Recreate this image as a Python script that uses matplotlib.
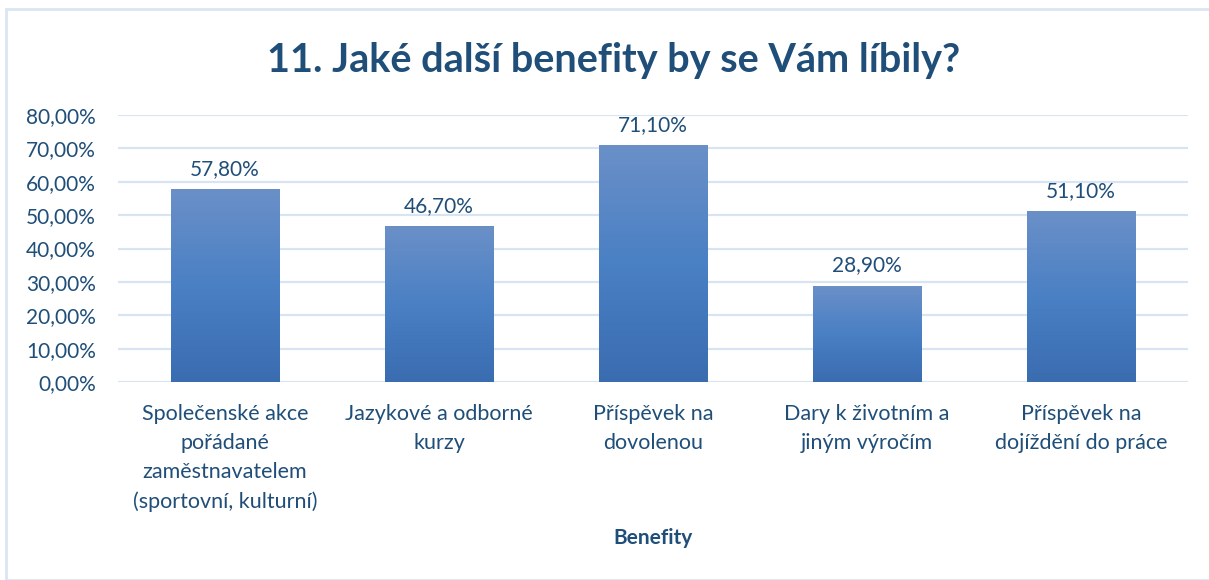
import numpy as np
import matplotlib.pyplot as plt
from matplotlib.patches import Rectangle
from matplotlib.colors import LinearSegmentedColormap
from matplotlib.ticker import FuncFormatter

categories = [
    "Společenské akce\npořádané\nzaměstnavatelem\n(sportovní, kulturní)",
    "Jazykové a odborné\nkurzy",
    "Příspěvek na\ndovolenou",
    "Dary k životním a\njiným výročím",
    "Příspěvek na\ndojíždění do práce",
]
values = [0.578, 0.467, 0.711, 0.289, 0.511]
yticks = [0.0, 0.1, 0.2, 0.3, 0.4, 0.5, 0.6, 0.7, 0.8]

text_color = "#1f4e79"
grid_color = "#d9e4f2"

plt.rcParams["font.family"] = ["Lato", "DejaVu Sans"]

fig = plt.figure(figsize=(12.09, 5.80), dpi=100)
ax = fig.add_axes([118 / 1209, 1 - 382 / 580, (1188 - 118) / 1209, (382 - 115) / 580])

# chart border
fig.patches.append(Rectangle((6 / 1209, 0), 1.2, 1 - 9 / 580, transform=fig.transFigure,
                             fill=False, edgecolor="#dae5f3", linewidth=2))

x = np.arange(len(categories))
bars = ax.bar(x, values, width=0.505, color="none", zorder=3)

cmap = LinearSegmentedColormap.from_list("g", ["#3a6cb0", "#4a80c4", "#6b90c8"])
grad = np.linspace(0, 1, 256).reshape(-1, 1)
for b in bars:
    x0, y0 = b.get_x(), b.get_y()
    w, h = b.get_width(), b.get_height()
    im = ax.imshow(grad, cmap=cmap, aspect="auto", origin="lower",
                   extent=[x0, x0 + w, y0, y0 + h], zorder=3)
    im.set_clip_path(b)

for xi, v in zip(x, values):
    ax.text(xi, v + 0.03, f"{v * 100:.2f}%".replace(".", ","), ha="center", va="bottom",
            fontsize=15, color=text_color)

ax.set_xlim(-0.5, len(categories) - 0.5)
ax.set_ylim(0, 0.8)
ax.set_yticks(yticks)
ax.yaxis.set_major_formatter(FuncFormatter(lambda v, p: f"{v * 100:.2f}%".replace(".", ",")))
ax.set_xticks(x)
ax.set_xticklabels(categories, fontsize=15.5, color=text_color, linespacing=1.55)
ax.tick_params(axis="y", labelsize=15, labelcolor=text_color, length=0, pad=16)
ax.tick_params(axis="x", length=0, pad=16)
ax.grid(axis="y", color=grid_color, linewidth=1.6, zorder=0)
ax.set_axisbelow(True)
for s in ax.spines.values():
    s.set_visible(False)

ax.set_xlabel("Benefity", fontsize=15, fontweight="bold", color=text_color, labelpad=12)
fig.suptitle("11. Jaké další benefity by se Vám líbily?", fontsize=28.5, fontweight="bold",
             color=text_color, x=614 / 1209, y=1 - 42 / 580, va="top")

fig.savefig("out.png", dpi=100)
